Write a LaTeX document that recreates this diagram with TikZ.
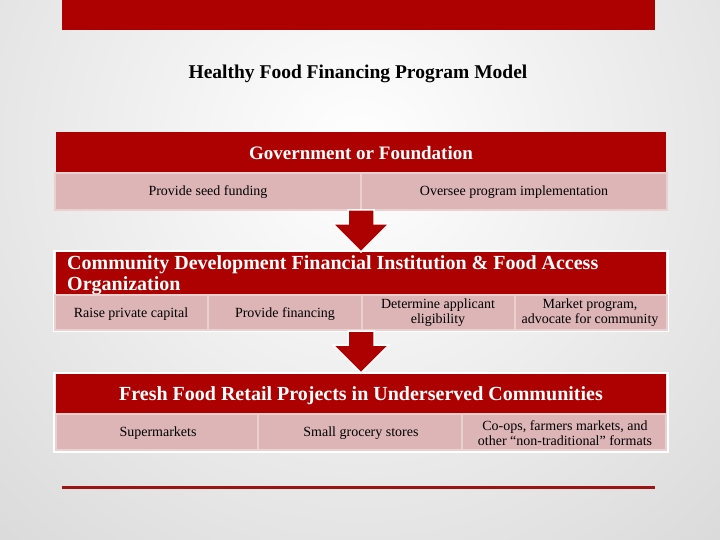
\documentclass[tikz,border=0pt]{standalone}
\usepackage{fontspec}
\setmainfont{Liberation Serif}
\usetikzlibrary{calc}
\definecolor{barRed}{HTML}{AD0000}
\definecolor{cellPink}{HTML}{DDB5B6}
\definecolor{cellEdge}{HTML}{EBD0D0}
\definecolor{lineRed}{HTML}{9E1414}
\definecolor{bgGrey}{HTML}{CFCFCF}

\begin{document}
\begin{tikzpicture}[x=1pt, y=-1pt,
  cellBox/.style={fill=cellPink, draw=cellEdge, line width=1.2pt},
  cellText/.style={font=\fontsize{14}{15}\selectfont, align=center, text=black},
  headText/.style={font=\fontsize{19}{21}\selectfont\bfseries, text=white},
  blockArrow/.style={fill=barRed, draw=white, line width=1.5pt, line join=miter}]

\useasboundingbox (0,0) rectangle (720,540);
\begin{scope}
\clip (0,0) rectangle (720,540);
\shade[inner color=white, outer color=bgGrey] (360,150) circle (700pt);
\end{scope}

\fill[barRed] (62,0) rectangle (655,30);
\node[font=\fontsize{19.5}{22}\selectfont\bfseries] (modelTitle) at (358,74) {Healthy Food Financing Program Model};

% government or foundation
\fill[barRed] (56,132) rectangle (666,172);
\node[headText] (govHeader) at (361,153) {Government or Foundation};
\draw[cellBox] (55,173) rectangle (361,210);
\node[cellText] (seedCell) at (208,192.5) {Provide seed funding};
\draw[cellBox] (361,173) rectangle (667,210);
\node[cellText] (overseeCell) at (514,192.5) {Oversee program implementation};

% cdfi and food access organization
\draw[white, line width=1.5pt] (54,251) rectangle (668,331);
\fill[barRed] (56,252) rectangle (666,294);
\node[headText, font=\fontsize{20}{21}\selectfont\bfseries, anchor=north west, align=left, inner sep=0pt] (cdfiHeader) at (67,255.5) {Community Development Financial Institution \& Food Access\\Organization};
\draw[cellBox] (55,295) rectangle (208,330);
\node[cellText] (capitalCell) at (131,314.5) {Raise private capital};
\draw[cellBox] (208,295) rectangle (362,330);
\node[cellText] (financingCell) at (285,314.5) {Provide financing};
\draw[cellBox] (362,295) rectangle (515,330);
\node[cellText] (eligibilityCell) at (438,313) {Determine applicant\\eligibility};
\draw[cellBox] (515,295) rectangle (667,330);
\node[cellText] (marketCell) at (590,313) {Market program,\\advocate for community};

% retail projects
\draw[white, line width=2pt] (54,373) rectangle (668,452);
\fill[barRed] (56,374) rectangle (666,413);
\node[headText, font=\fontsize{20}{21}\selectfont\bfseries] (retailHeader) at (361,396) {Fresh Food Retail Projects in Underserved Communities};
\draw[cellBox] (56,414) rectangle (258,450);
\node[cellText] (superCell) at (158,433.5) {Supermarkets};
\draw[cellBox] (258,414) rectangle (462,450);
\node[cellText] (groceryCell) at (361,433.5) {Small grocery stores};
\draw[cellBox] (462,414) rectangle (666,450);
\node[cellText] (coopCell) at (565,433) {Co-ops, farmers markets, and\\other “non-traditional” formats};

% arrows between the blocks
\coordinate (arrowOneTop) at (361,210);
\coordinate (arrowTwoTop) at (361,331);
\foreach \top in {arrowOneTop, arrowTwoTop}
  \draw[blockArrow] ($(\top)+(-13,0)$) -- ++(0,14) -- ++(-15,0) -- ($(\top)+(0,42)$) -- ++(28,-28) -- ++(-15,0) -- ++(0,-14) -- cycle;

\draw[lineRed, line width=3pt] (62,487) -- (655,487);

\end{tikzpicture}
\end{document}
